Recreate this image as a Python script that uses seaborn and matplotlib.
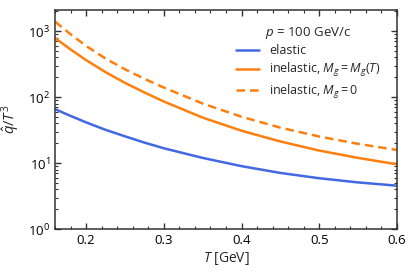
import numpy as np
import pandas as pd
import seaborn as sns
import matplotlib
matplotlib.use("Agg")
import matplotlib.pyplot as plt
from matplotlib.ticker import LogLocator, MultipleLocator, NullFormatter
from matplotlib.lines import Line2D

T = [0.16, 0.18, 0.20, 0.225, 0.25, 0.275, 0.30, 0.35, 0.40, 0.45, 0.50, 0.55, 0.60]
elastic = [66, 52, 41.5, 32, 25.5, 20.5, 16.8, 12.0, 9.0, 7.1, 5.9, 5.1, 4.55]
inel_MgT = [790, 530, 365, 240, 165, 118, 86, 49, 31, 21.3, 15.5, 12.0, 9.6]
inel_Mg0 = [1400, 900, 600, 385, 265, 190, 140, 80, 50.5, 34.5, 25.3, 19.6, 15.8]

labels = ["elastic", r"inelastic, $M_g = M_g(T)$", r"inelastic, $M_g = 0$"]
legend_title = r"$p$ = 100 GeV/c"

df = pd.concat([
    pd.DataFrame({"T": T, "q": elastic, "series": labels[0]}),
    pd.DataFrame({"T": T, "q": inel_MgT, "series": labels[1]}),
    pd.DataFrame({"T": T, "q": inel_Mg0, "series": labels[2]}),
])

sns.set_theme(style="ticks")
plt.rcParams['font.family'] = ['Open Sans', 'DejaVu Sans']
plt.rcParams['mathtext.fontset'] = 'custom'
plt.rcParams['mathtext.rm'] = 'Open Sans'
plt.rcParams['mathtext.it'] = 'Open Sans:italic'
plt.rcParams['mathtext.bf'] = 'Open Sans:bold'

blue = "#4169e1"
orange = "#ff7f0e"
dash_pat = (3.4, 2.0)
palette = {labels[0]: blue, labels[1]: orange, labels[2]: orange}
dashes = {labels[0]: "", labels[1]: "", labels[2]: dash_pat}

fig = plt.figure(figsize=(4.15, 2.77), dpi=100)
ax = fig.add_axes([0.1325, 0.173, 0.824, 0.791])
sns.lineplot(data=df, x="T", y="q", hue="series", style="series",
             palette=palette, dashes=dashes, linewidth=1.8, ax=ax, legend=False)

ax.set_yscale("log")
ax.set_xlim(0.16, 0.6)
ax.set_ylim(1, 2100)
ax.xaxis.set_major_locator(MultipleLocator(0.1))
ax.xaxis.set_minor_locator(MultipleLocator(0.02))
ax.yaxis.set_major_locator(LogLocator(base=10, numticks=10))
ax.yaxis.set_minor_locator(LogLocator(base=10, subs=np.arange(2, 10), numticks=20))
ax.yaxis.set_minor_formatter(NullFormatter())
ax.tick_params(which="both", direction="in", top=True, right=True, labelsize=9.5, colors="#333333", labelcolor="black")
ax.tick_params(which="major", length=4, width=1)
ax.tick_params(which="minor", length=2, width=0.8)
for s in ax.spines.values():
    s.set_linewidth(1.1)
    s.set_color("#333333")

ax.set_xlabel(r"$T$ [GeV]", fontsize=10, labelpad=2)
ax.set_ylabel(r"$\hat{q}/T^3$", fontsize=10.5, labelpad=4)

handles = [Line2D([], [], color=blue, lw=1.8),
           Line2D([], [], color=orange, lw=1.8),
           Line2D([], [], color=orange, lw=1.8, dashes=dash_pat)]
leg = ax.legend(handles, labels, title=legend_title, loc="upper right",
                frameon=False, fontsize=9, title_fontsize=9.5,
                handlelength=1.9, handletextpad=0.8, labelspacing=0.3,
                bbox_to_anchor=(0.985, 0.985))

fig.savefig("out.png", dpi=100)
